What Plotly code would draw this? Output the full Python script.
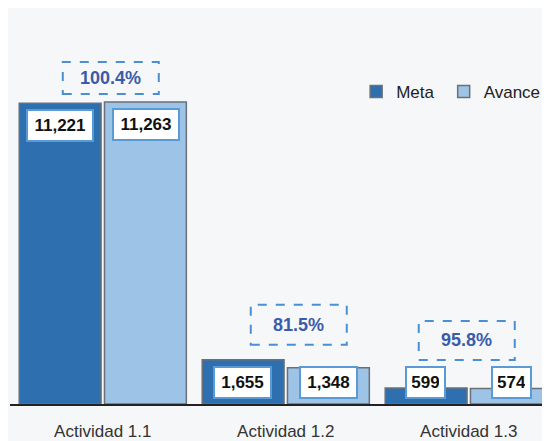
import plotly.graph_objects as go

categories = ["Actividad 1.1", "Actividad 1.2", "Actividad 1.3"]
meta = [11221, 1655, 599]
avance = [11263, 1348, 574]
pct_labels = ["100.4%", "81.5%", "95.8%"]

BG = "#f6f7f9"
META_C = "#2e6fb0"
AVANCE_C = "#9dc3e6"
FONT = "Liberation Sans, Arial, sans-serif"

fig = go.Figure()
fig.add_trace(go.Bar(name="Meta\u00a0", x=categories, y=meta,
                     marker=dict(color=META_C, line=dict(color="#6b7078", width=1.5))))
fig.add_trace(go.Bar(name="Avance", x=categories, y=avance,
                     marker=dict(color=AVANCE_C, line=dict(color="#6b7078", width=1.5))))

annotations = []
shapes = []
label_floor = 1655
for i, cat in enumerate(categories):
    for val, xs in ((meta[i], -43), (avance[i], 43)):
        txt = f"{val:,}"
        annotations.append(dict(
            x=cat, y=max(val, label_floor), xref="x", yref="y",
            xshift=xs, yshift=-6, yanchor="top", showarrow=False,
            text=f"<b>{txt}</b>", font=dict(family=FONT, size=17, color="#111"),
            bgcolor="white", bordercolor="#5b9bd5", borderwidth=2, borderpad=5,
            width=9 * len(txt),
        ))

# percentage boxes: pixel offsets above the tallest bar of each group
pct_dx = [8, 13, -2]
pct_y0 = [8, 15, 28]
pct_y1 = [40, 55, 67]
for i, cat in enumerate(categories):
    top = max(meta[i], avance[i])
    shapes.append(dict(
        type="rect", xref="x", yref="y",
        xsizemode="pixel", ysizemode="pixel",
        xanchor=i, yanchor=top,
        x0=pct_dx[i] - 48, x1=pct_dx[i] + 48,
        y0=pct_y0[i], y1=pct_y1[i],
        line=dict(color="#4a90d0", width=2, dash="dash"),
        fillcolor=BG, layer="above",
    ))
    annotations.append(dict(
        x=cat, y=top, xref="x", yref="y",
        xshift=pct_dx[i], yshift=(pct_y0[i] + pct_y1[i]) / 2,
        yanchor="middle", showarrow=False,
        text=f"<b>{pct_labels[i]}</b>",
        font=dict(family=FONT, size=18, color="#3a5ca8"),
    ))

fig.update_layout(
    width=550, height=441,
    margin=dict(l=2, r=8, t=2, b=45, autoexpand=False),
    paper_bgcolor=BG, plot_bgcolor=BG,
    barmode="group", bargap=0.068, bargroupgap=0.04,
    showlegend=True,
    legend=dict(orientation="h", x=0.641, xanchor="left", y=0.792, yanchor="middle",
                font=dict(family=FONT, size=17, color="#222"),
                bgcolor="rgba(0,0,0,0)", traceorder="normal"),
    xaxis=dict(range=[-0.507, 2.444], showline=True, linecolor="#222", linewidth=1.5,
               showgrid=False, ticks="", tickfont=dict(family=FONT, size=17, color="#333"),
               ticklabelstandoff=11, automargin=False),
    yaxis=dict(range=[0, 14700], visible=False, showgrid=False, zeroline=False,
               automargin=False),
    annotations=annotations, shapes=shapes,
    font=dict(family=FONT),
)

fig.write_html("out.html")
